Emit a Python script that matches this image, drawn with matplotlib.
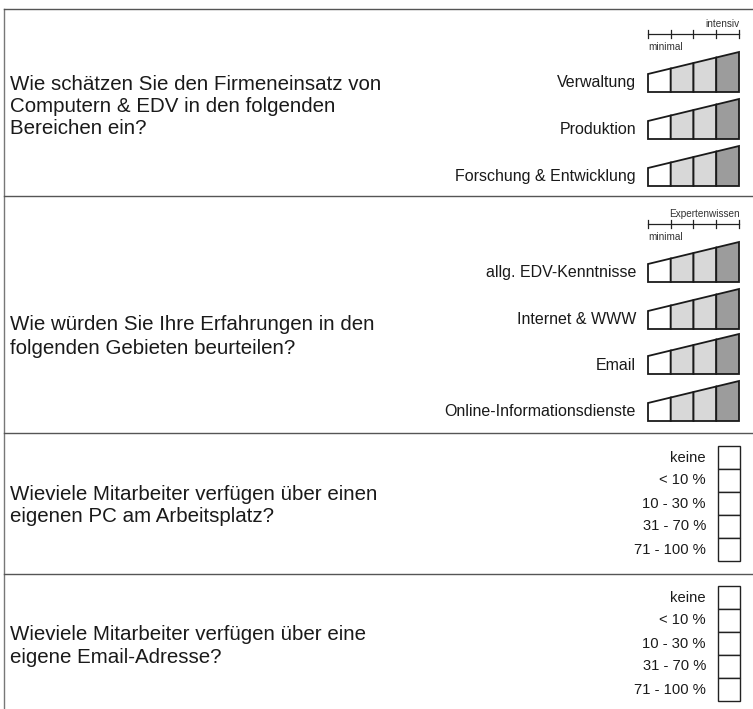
import matplotlib.pyplot as plt
from matplotlib.patches import Polygon, Rectangle

plt.rcParams["font.family"] = ["Liberation Sans", "DejaVu Sans"]

# questions (lines of text) for each block
questions = [
    ["Wie schätzen Sie den Firmeneinsatz von", "Computern & EDV in den folgenden", "Bereichen ein?"],
    ["Wie würden Sie Ihre Erfahrungen in den", "folgenden Gebieten beurteilen?"],
    ["Wieviele Mitarbeiter verfügen über einen", "eigenen PC am Arbeitsplatz?"],
    ["Wieviele Mitarbeiter verfügen über eine", "eigene Email-Adresse?"],
]

# rating items for the two wedge blocks
items_usage = ["Verwaltung", "Produktion", "Forschung & Entwicklung"]
items_skill = ["allg. EDV-Kenntnisse", "Internet & WWW", "Email", "Online-Informationsdienste"]
scale_low = ["minimal", "minimal"]
scale_high = ["intensiv", "Expertenwissen"]
n_steps = 4

# checkbox options for the two share blocks
share_options = ["keine", "< 10 %", "10 - 30 %", "31 - 70 %", "71 - 100 %"]

W, H = 753, 709
fig = plt.figure(figsize=(W / 100, H / 100), dpi=100)
ax = fig.add_axes([0, 0, 1, 1])
ax.set_xlim(0, W)
ax.set_ylim(H, 0)
ax.axis("off")

line_col = "#555555"
ink = "#1a1a1a"
seg_cols = ["white", "#d8d8d8", "#d8d8d8", "#9c9c9c"]

# frame: left border + block separators
ax.plot([4, 4], [9, H], color="#777777", lw=1.0)
for y in [9, 196, 433, 574]:
    ax.plot([4, W], [y, y], color=line_col, lw=1.0)

q_lines = [(85, 22), (325, 23), (494, 23), (635, 22.5)]
for lines, (y0, dy) in zip(questions, q_lines):
    for i, t in enumerate(lines):
        ax.text(10, y0 + i * dy, t, fontsize=14.8, va="center", ha="left", color=ink)

x0, wx = 648, 91


def draw_scale(y, low, high):
    ax.plot([x0, x0 + wx], [y, y], color="#222222", lw=0.9)
    for k in range(n_steps + 1):
        xx = x0 + k * wx / n_steps
        ax.plot([xx, xx], [y - 4, y + 4], color="#222222", lw=0.9)
    ax.text(x0 + wx + 1, y - 10, high, fontsize=7.2, ha="right", va="center", color="#333333")
    ax.text(x0, y + 13, low, fontsize=7.2, ha="left", va="center", color="#333333")


def draw_wedge(yb):
    def top(x):
        return yb - (18 + 22 * (x - x0) / wx)
    for k in range(n_steps):
        xa = x0 + k * wx / n_steps
        xb = x0 + (k + 1) * wx / n_steps
        poly = Polygon([(xa, yb), (xb, yb), (xb, top(xb)), (xa, top(xa))], closed=True,
                       facecolor=seg_cols[k], edgecolor="#1a1a1a", lw=1.3)
        ax.add_patch(poly)


def draw_rating(items, bottoms, scale_y, low, high):
    draw_scale(scale_y, low, high)
    for label, yb in zip(items, bottoms):
        draw_wedge(yb)
        ax.text(636, yb - 9, label, fontsize=11.5, ha="right", va="center", color=ink)


draw_rating(items_usage, [92, 139, 186], 34, scale_low[0], scale_high[0])
draw_rating(items_skill, [282, 329, 374, 421], 224, scale_low[1], scale_high[1])


def draw_boxes(top):
    bh = 23
    for k, opt in enumerate(share_options):
        y = top + k * bh
        ax.add_patch(Rectangle((718, y), 22, bh, facecolor="white", edgecolor="#222222", lw=1.0))
        ax.text(706, y + bh / 2, opt, fontsize=10.6, ha="right", va="center", color=ink)


draw_boxes(446)
draw_boxes(586)

fig.savefig("out.png", dpi=100)
